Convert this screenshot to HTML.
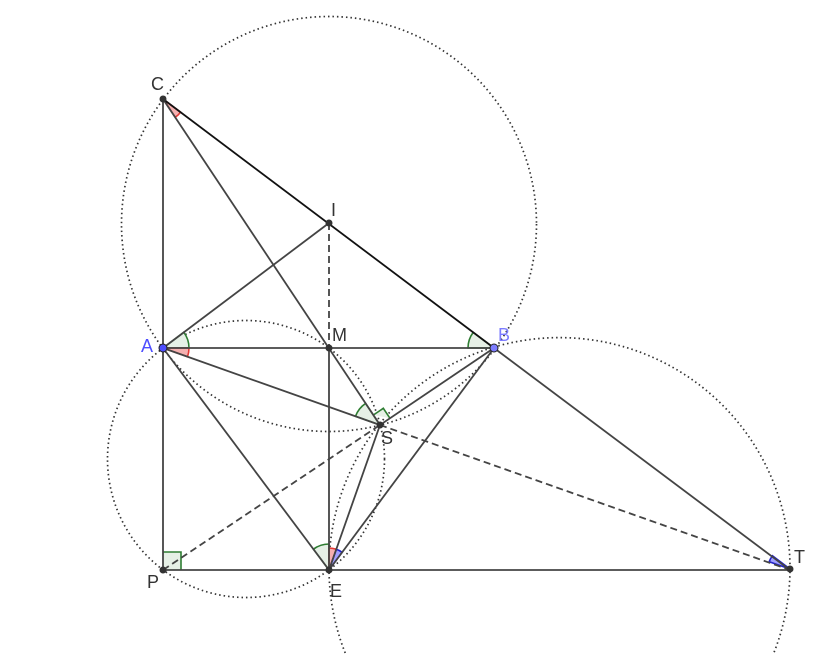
<!DOCTYPE html>
<html><head><style>html,body{margin:0;padding:0;background:#fff;overflow:hidden;width:830px;height:654px}svg{display:block;overflow:hidden}text{font-family:"Liberation Sans",sans-serif;font-size:18px;fill:#333}</style></head><body>
<svg width="830" height="654" viewBox="0 0 830 654">
<g fill="none" stroke="#333" stroke-width="1.7" stroke-dasharray="1.5 3">
<circle cx="329" cy="224" r="207.5"/>
<circle cx="246" cy="459" r="138.5"/>
<path d="M345.2,653 A230.5,230.5 0 1 1 773.8,653"/>
</g>
<path d="M163,552 L181,552 L181,570 L163,570Z" fill="#e6f0e6"/>
<g fill="#e6f0e6" stroke="#2e7d32" stroke-width="1.6">
<path d="M163,348 L183.8,332.3 A26,26 0 0 1 189,348 Z"/>
<path d="M494,348 L468,348 A26,26 0 0 1 473.2,332.4 Z"/>
<path d="M380,425 L355.5,416.3 A26,26 0 0 1 365.6,403.4 Z"/>
<path d="M373.4,415 L383.3,408.3 L390,418.3"/>
<path d="M329,570 L313.4,549.2 A26,26 0 0 1 329,544 Z"/>
<path d="M163,552 L181,552 L181,570" fill="none"/>
</g>
<g fill="#f5b0b0" stroke="#e53935" stroke-width="1.6">
<path d="M163,99 L180.6,112.2 A22,22 0 0 1 175.2,117.3 Z"/>
<path d="M163,348 L189,348 A26,26 0 0 1 187.5,356.7 Z"/>
<path d="M329,570 L329,548 A22,22 0 0 1 336.3,549.3 Z"/>
</g>
<g fill="#a0a0ff" stroke="#2222cc" stroke-width="1.6">
<path d="M329,570 L336.3,549.3 A22,22 0 0 1 342.1,552.3 Z"/>
<path d="M790,569 L772.4,555.8 A22,22 0 0 0 769.2,561.7 Z"/>
</g>
<g stroke="#444" stroke-width="1.8" fill="none">
<line x1="163" y1="99" x2="163" y2="570"/>
<line x1="163" y1="570" x2="790" y2="570"/>
<line x1="163" y1="348" x2="494" y2="348"/>
<line x1="163" y1="348" x2="329" y2="223"/>
<line x1="163" y1="99" x2="380" y2="425"/>
<line x1="163" y1="348" x2="380" y2="425"/>
<line x1="163" y1="348" x2="329" y2="570"/>
<line x1="329" y1="348" x2="329" y2="570"/>
<line x1="494" y1="348" x2="790" y2="570"/>
<line x1="380" y1="425" x2="494" y2="348"/>
<line x1="380" y1="425" x2="329" y2="570"/>
<line x1="494" y1="348" x2="329" y2="570"/>
<line x1="163" y1="99" x2="494" y2="348" stroke="#111"/>
</g>
<g stroke="#444" stroke-width="1.8" stroke-dasharray="7 4">
<line x1="329" y1="223" x2="329" y2="348"/>
<line x1="163" y1="570" x2="380" y2="425"/>
<line x1="380" y1="425" x2="790" y2="570"/>
</g>
<g fill="#333">
<circle cx="163" cy="99" r="3.5"/><circle cx="329" cy="223" r="3.5"/><circle cx="329" cy="348" r="3.5"/>
<circle cx="380" cy="425" r="3.5"/><circle cx="163" cy="570" r="3.5"/><circle cx="329" cy="570" r="3.5"/><circle cx="790" cy="569" r="3.5"/>
</g>
<circle cx="163" cy="348" r="4" fill="#4d4dff" stroke="#222"/>
<circle cx="494" cy="348" r="4" fill="#7d7dff" stroke="#222"/>
<text x="151" y="90">C</text><text x="331" y="216">I</text>
<text x="141" y="352" style="fill:#4d4dff">A</text><text x="332" y="341">M</text>
<text x="498" y="341" style="fill:#7d7dff">B</text><text x="381" y="444">S</text>
<text x="147" y="588">P</text><text x="330" y="597">E</text><text x="794" y="563">T</text>
</svg>
</body></html>
